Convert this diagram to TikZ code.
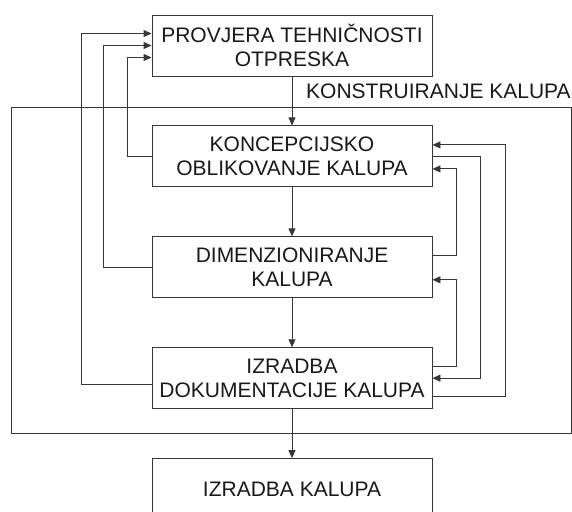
\documentclass[tikz,border=0pt]{standalone}
\usepackage{fontspec}
\setmainfont{Liberation Sans}
\usetikzlibrary{arrows.meta, positioning, fit, calc}
\definecolor{linegray}{RGB}{55,55,55}
\definecolor{textblack}{RGB}{25,25,25}

\begin{document}
\begin{tikzpicture}[
				node distance=49pt,
				stage/.style={rectangle, draw=linegray, line width=0.9pt, text=textblack,
					minimum width=280pt, minimum height=61pt, align=center, inner sep=2pt,
					font=\fontsize{21}{24}\selectfont},
				arrow/.style={-{Triangle[length=8pt,width=7pt]}, line width=0.9pt, color=linegray},
				frame/.style={draw=linegray, line width=0.9pt, inner sep=0pt},
				flabel/.style={font=\fontsize{21}{24}\selectfont, text=textblack, inner sep=0pt}
				]
				\useasboundingbox (0,0) rectangle (572pt,-511pt);
				\node[stage] (provjera) at (292pt,-45.5pt) {PROVJERA TEHNIČNOSTI\\OTPRESKA};
				\node[stage, below=of provjera] (koncept) {KONCEPCIJSKO\\OBLIKOVANJE KALUPA};
				\node[stage, below=of koncept] (dimenz) {DIMENZIONIRANJE\\KALUPA};
				\node[stage, below=of dimenz] (dokum) {IZRADBA\\DOKUMENTACIJE KALUPA};
				\node[stage, below=of dokum] (izradba) {IZRADBA KALUPA};

				% frame round the design stages
				\coordinate (frameNW) at ($(koncept.north west)+(-140pt,18pt)$);
				\coordinate (frameSE) at ($(dokum.south east)+(139pt,-24pt)$);
				\node[frame, fit=(frameNW)(frameSE)] (konstr) {};
				\node[flabel, anchor=base east] (konstrlabel) at ($(konstr.north east)+(-1pt,9pt)$) {KONSTRUIRANJE KALUPA};

				\draw[arrow] (provjera) -- (koncept);
				\draw[arrow] (koncept) -- (dimenz);
				\draw[arrow] (dimenz) -- (dokum);
				\draw[arrow] (dokum) -- (izradba);

				% feedback to the top box
				\draw[arrow] (koncept.west) -- ++(-24pt,0) |- ($(provjera.west)+(0,-12pt)$);
				\draw[arrow] (dimenz.west) -- ++(-48pt,0) |- (provjera.west);
				\draw[arrow] ($(dokum.west)+(0,-6pt)$) -- ++(-70pt,0) |- ($(provjera.west)+(0,12pt)$);

				% loops on the right
				\draw[arrow] ($(dokum.east)+(0,-18.5pt)$) -- ++(73pt,0) |- ($(koncept.east)+(0,11.5pt)$);
				\draw[arrow] (koncept.east) -- ++(48pt,0) |- (dokum.east);
				\draw[arrow] ($(dimenz.east)+(0,11.5pt)$) -- ++(24pt,0) |- ($(koncept.east)+(0,-12.5pt)$);
				\draw[arrow] ($(dokum.east)+(0,11.5pt)$) -- ++(24pt,0) |- ($(dimenz.east)+(0,-12.5pt)$);
			\end{tikzpicture}
\end{document}
